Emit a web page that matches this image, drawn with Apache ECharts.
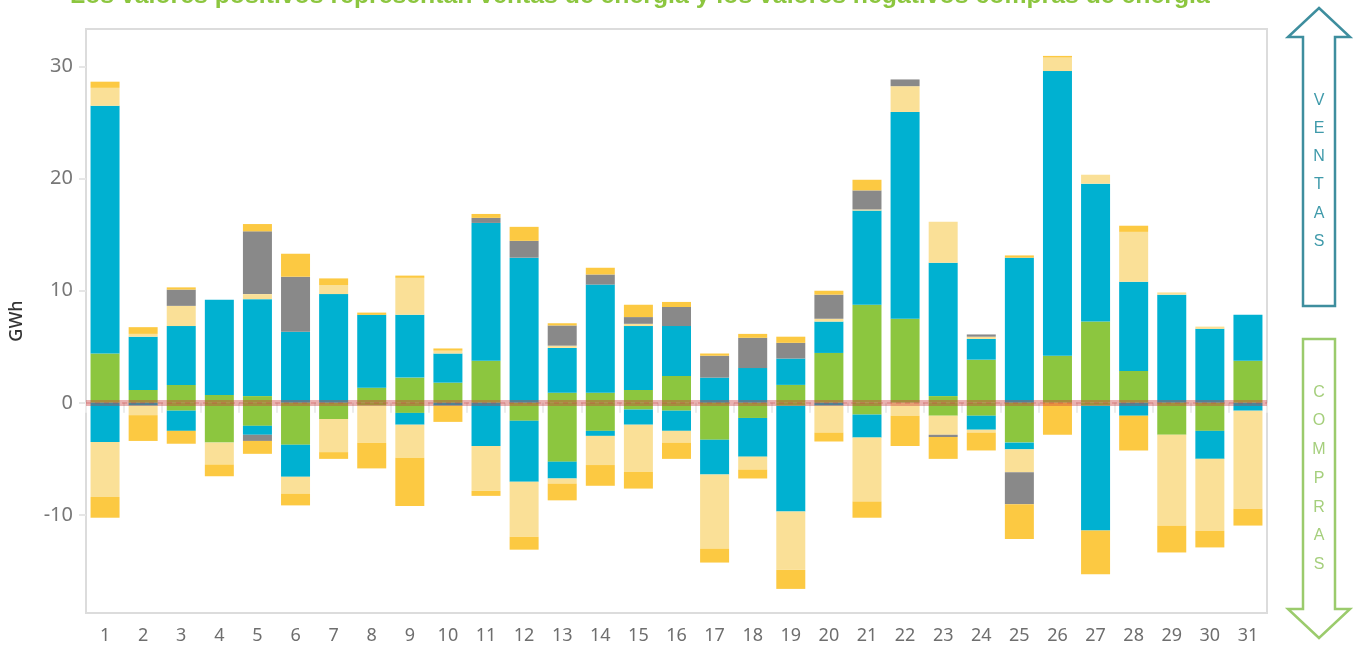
<!DOCTYPE html>
<html>
<head>
<meta charset="utf-8">
<script src="https://cdn.jsdelivr.net/npm/echarts@6/dist/echarts.min.js"></script>
<style>
html,body{margin:0;padding:0;background:#fff;}
#chart{width:1356px;height:647px;}
</style>
</head>
<body>
<div id="chart"></div>
<script>
const days = ['1','2','3','4','5','6','7','8','9','10','11','12','13','14','15','16','17','18','19','20','21','22','23','24','25','26','27','28','29','30','31'];
const yTicks = [-10, 0, 10, 20, 30];
const titleText = 'Los valores positivos representan ventas de energía y los valores negativos compras de energía';

// Positive (ventas)
const greenPos  = [4.4,1.15,1.6,0.7,0.6,0,0,1.35,2.25,1.8,3.75,0,0.9,0.9,1.15,2.4,0,0,1.6,4.45,8.75,7.5,0.6,3.85,0,4.2,7.25,2.85,0,0,3.75];
const bluePos   = [22.1,4.75,5.25,8.5,8.65,6.35,9.7,6.5,5.6,2.6,12.3,12.95,4.0,9.65,5.7,4.45,2.25,3.1,2.35,2.8,8.4,18.45,11.9,1.85,12.95,25.4,12.3,7.95,9.65,6.6,4.1];
const lightPos  = [1.6,0.25,1.8,0,0.45,0,0.8,0,3.3,0.25,0,0,0.2,0,0.2,0,0,0,0,0.25,0.1,2.3,3.65,0.2,0,1.2,0.8,4.45,0.2,0.2,0];
const grayPos   = [0,0,1.45,0,5.6,4.9,0,0,0,0,0.45,1.5,1.8,0.9,0.6,1.7,1.95,2.7,1.4,2.15,1.7,0.6,0,0.2,0,0,0,0,0,0,0];
const yellowPos = [0.55,0.6,0.2,0,0.65,2.05,0.6,0.2,0.2,0.2,0.35,1.25,0.2,0.6,1.1,0.45,0.2,0.35,0.55,0.35,0.95,0,0,0,0.2,0.15,0,0.55,0,0,0];

// Negative (compras)
const greenNeg  = [0,0,-0.7,-3.55,-2.05,-3.75,-1.45,-0.25,-0.9,0,0,-1.6,-5.25,-2.5,-0.6,-0.7,-3.3,-1.35,-0.25,0,-1.05,0,-1.15,-1.15,-3.55,0,-0.25,0,-2.85,-2.5,0];
const blueNeg   = [-3.5,-0.25,-1.8,0,-0.8,-2.85,0,0,-1.05,-0.25,-3.85,-5.45,-1.5,-0.45,-1.35,-1.8,-3.1,-3.45,-9.45,-0.25,-2.05,0,0,-1.25,-0.6,0,-11.15,-1.15,0,-2.5,-0.7];
const lightNeg  = [-4.9,-0.85,0,-1.95,0,-1.5,-2.95,-3.3,-2.95,0,-4.0,-4.9,-0.45,-2.6,-4.2,-1.05,-6.6,-1.15,-5.2,-2.4,-5.7,-1.15,-1.7,-0.25,-2.05,0,0,0,-8.1,-6.4,-8.75];
const grayNeg   = [0,0,0,0,-0.55,0,0,0,0,0,0,0,0,0,0,0,0,0,0,0,0,0,-0.2,0,-2.85,0,0,0,0,0,0];
const yellowNeg = [-1.85,-2.3,-1.15,-1.05,-1.15,-1.05,-0.6,-2.3,-4.3,-1.45,-0.45,-1.15,-1.5,-1.85,-1.5,-1.45,-1.25,-0.8,-1.7,-0.8,-1.45,-2.7,-1.95,-1.6,-3.1,-2.85,-3.9,-3.1,-2.4,-1.5,-1.5];

const C = {green:'#8cc63f', blue:'#00b1d1', light:'#fae097', gray:'#898989', yellow:'#fcc942'};

function bar(name, data, color){
  return {name:name, type:'bar', stack:'total', data:data, barWidth:29,
    itemStyle:{color:color}, emphasis:{disabled:true}, silent:true};
}

const series = [
  bar('Verde+', greenPos, C.green),
  bar('Azul+', bluePos, C.blue),
  bar('Claro+', lightPos, C.light),
  bar('Gris+', grayPos, C.gray),
  bar('Amarillo+', yellowPos, C.yellow),
  bar('Verde-', greenNeg, C.green),
  bar('Azul-', blueNeg, C.blue),
  bar('Claro-', lightNeg, C.light),
  bar('Gris-', grayNeg, C.gray),
  bar('Amarillo-', yellowNeg, C.yellow)
];
series[series.length-1].markLine = {
  silent:true, symbol:'none', label:{show:false},
  data:[
    {yAxis:0, lineStyle:{color:'rgba(200,60,60,0.4)', width:6, type:'solid'}},
    {yAxis:0, lineStyle:{color:'rgba(200,60,60,0.22)', width:2, type:[5,4]}}
  ]
};

const chart = echarts.init(document.getElementById('chart'), null, {renderer:'canvas'});
chart.setOption({
  animation:false,
  backgroundColor:'#ffffff',
  grid:{left:86, right:89, top:29, bottom:34, containLabel:false, outerBoundsMode:'none',
    show:true, borderColor:'#dcdcdc', borderWidth:2, backgroundColor:'#ffffff'},
  xAxis:{
    type:'category', data:days,
    axisLine:{show:false},
    axisTick:{show:true, alignWithLabel:false, length:10, lineStyle:{color:'#ececec', width:2}},
    axisLabel:{fontSize:18, color:'#6e6e6e', margin:14, fontFamily:'Noto Sans'},
    splitLine:{show:false}
  },
  yAxis:{
    type:'value', min:-18.75, max:33.35,
    name:'GWh', nameLocation:'middle', nameGap:60,
    nameTextStyle:{fontSize:18, color:'#333', fontWeight:500, fontFamily:'Noto Sans'},
    axisLine:{show:false},
    axisTick:{show:true, length:7, customValues:yTicks, lineStyle:{color:'#e6e6e6', width:2}},
    axisLabel:{fontSize:20, color:'#777', margin:13, customValues:yTicks, fontFamily:'Noto Sans'},
    splitLine:{show:false}
  },
  series:series,
  graphic:[
    {type:'text', left:70, top:-16, silent:true,
      style:{text:titleText, fill:'#8cc63f', font:'bold 24.8px "Liberation Sans"'}},
    {type:'polygon', silent:true,
      shape:{points:[[1319,8],[1350,37],[1335,37],[1335,306],[1303,306],[1303,37],[1288,37]]},
      style:{fill:'#ffffff', stroke:'#3e8e9e', lineWidth:2.5}},
    {type:'polygon', silent:true,
      shape:{points:[[1303,339],[1335,339],[1335,609],[1350,609],[1319,638],[1288,609],[1303,609]]},
      style:{fill:'#ffffff', stroke:'#9bcb6c', lineWidth:2.5}},
    {type:'text', x:1319, y:86, silent:true,
      style:{text:'V\nE\nN\nT\nA\nS', fill:'#3f9aaa', font:'16px "Liberation Sans"', align:'center', verticalAlign:'top', lineHeight:28.3}},
    {type:'text', x:1319, y:378, silent:true,
      style:{text:'C\nO\nM\nP\nR\nA\nS', fill:'#a5cf7c', font:'16px "Liberation Sans"', align:'center', verticalAlign:'top', lineHeight:28.7}}
  ]
});
</script>
</body>
</html>
